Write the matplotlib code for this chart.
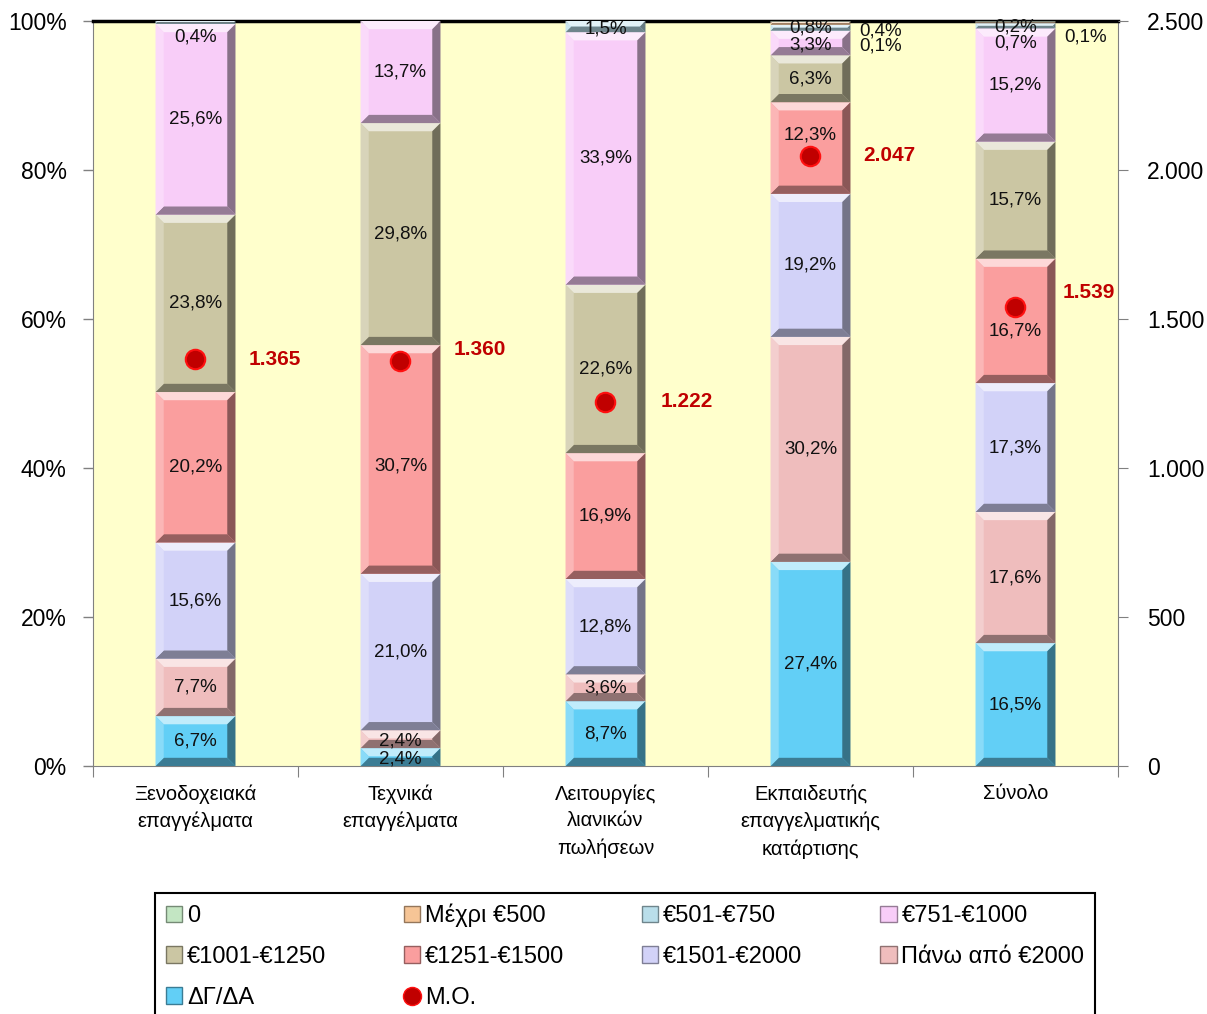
import numpy as np
import matplotlib
matplotlib.use("Agg")
import matplotlib.pyplot as plt
from matplotlib.patches import Patch, Polygon
from matplotlib.lines import Line2D
from matplotlib.colors import to_rgb

plt.rcParams['font.family'] = ['Liberation Sans', 'DejaVu Sans']

categories = ["Ξενοδοχειακά\nεπαγγέλματα", "Τεχνικά\nεπαγγέλματα",
              "Λειτουργίες\nλιανικών\nπωλήσεων",
              "Εκπαιδευτής\nεπαγγελματικής\nκατάρτισης", "Σύνολο"]

# stacked bottom -> top
series = ["ΔΓ/ΔΑ", "Πάνω από €2000", "€1501-€2000", "€1251-€1500",
          "€1001-€1250", "€751-€1000", "€501-€750", "Μέχρι €500", "0"]
dg = [6.7, 2.4, 8.7, 27.4, 16.5]
over2000 = [7.7, 2.4, 3.6, 30.2, 17.6]
r1501 = [15.6, 21.0, 12.8, 19.2, 17.3]
r1251 = [20.2, 30.7, 16.9, 12.3, 16.7]
r1001 = [23.8, 29.8, 22.6, 6.3, 15.7]
r751 = [25.6, 13.7, 33.9, 3.3, 15.2]
r501 = [0.4, 0.0, 1.5, 0.8, 0.7]
upto500 = [0.0, 0.0, 0.0, 0.4, 0.2]
zero = [0.0, 0.0, 0.0, 0.1, 0.1]
values = [dg, over2000, r1501, r1251, r1001, r751, r501, upto500, zero]

means = [1365, 1360, 1222, 2047, 1539]

colors = {
    "ΔΓ/ΔΑ": "#62CFF6",
    "Πάνω από €2000": "#EFBDBD",
    "€1501-€2000": "#D2D2F8",
    "€1251-€1500": "#FA9E9E",
    "€1001-€1250": "#CBC6A3",
    "€751-€1000": "#F8CDF8",
    "€501-€750": "#B9DEEA",
    "Μέχρι €500": "#F6C596",
    "0": "#C3E6C3",
}

# legend order, row by row in the original (matplotlib fills by column)
legend_order = ["0", "€1001-€1250", "ΔΓ/ΔΑ", "Μέχρι €500", "€1251-€1500", "Μ.Ο.",
                "€501-€750", "€1501-€2000", "€751-€1000", "Πάνω από €2000"]

# label placement tweaks: (cat, series) -> (dx, y, ha)
label_moves = {
    (0, "€501-€750"): (0, 97.9, "center"),
    (2, "€501-€750"): (0, 98.9, "center"),
    (1, "ΔΓ/ΔΑ"): (0, 0.9, "center"),
    (1, "Πάνω από €2000"): (0, 3.4, "center"),
    (1, "€1251-€1500"): (0, 40.3, "center"),
    (3, "€1251-€1500"): (0, 84.7, "center"),
    (3, "€751-€1000"): (0, 96.8, "center"),
    (3, "€501-€750"): (0, 99.0, "center"),
    (3, "Μέχρι €500"): (0.24, 98.7, "left"),
    (3, "0"): (0.24, 96.6, "left"),
    (4, "€1251-€1500"): (0, 58.4, "center"),
    (4, "Μέχρι €500"): (0, 99.2, "center"),
    (4, "€501-€750"): (0, 97.0, "center"),
    (4, "0"): (0.24, 97.9, "left"),
}
mean_offsets = [(38, 0), (38, 8), (40, 0), (38, 0), (34, 11)]


def mix(c, other, t):
    c = np.array(to_rgb(c))
    return tuple(c * (1 - t) + np.array(other) * t)


def bevel(ax, p, color):
    x0, y0 = p.get_x(), p.get_y()
    x1, y1 = x0 + p.get_width(), y0 + p.get_height()
    h = y1 - y0
    if h <= 0:
        return
    by = min(1.1, h / 2)
    bx = 0.04 * by / 1.1
    faces = [
        ([(x0, y1), (x1, y1), (x1 - bx, y1 - by), (x0 + bx, y1 - by)], mix(color, (1, 1, 1), 0.6)),
        ([(x0, y0), (x1, y0), (x1 - bx, y0 + by), (x0 + bx, y0 + by)], mix(color, (0, 0, 0), 0.4)),
        ([(x0, y0), (x0 + bx, y0 + by), (x0 + bx, y1 - by), (x0, y1)], mix(color, (1, 1, 1), 0.25)),
        ([(x1, y0), (x1 - bx, y0 + by), (x1 - bx, y1 - by), (x1, y1)], mix(color, (0, 0, 0), 0.45)),
    ]
    for pts, fc in faces:
        ax.add_patch(Polygon(pts, closed=True, facecolor=fc, edgecolor="none", zorder=3))


fig = plt.figure(figsize=(12.07, 10.14), dpi=100)
ax = fig.add_axes([93 / 1207, 1 - 766 / 1014, 1025 / 1207, 745 / 1014])
ax.set_facecolor("#FFFFCC")

x = np.arange(len(categories))
bottom = np.zeros(len(categories))
for name, vals in zip(series, values):
    vals = np.array(vals)
    bars = ax.bar(x, vals, 0.39, bottom=bottom, color=colors[name], zorder=2, linewidth=0)
    for i, p in enumerate(bars):
        bevel(ax, p, colors[name])
        if vals[i] <= 0:
            continue
        txt = f"{vals[i]:.1f}%".replace(".", ",")
        if (i, name) in label_moves:
            dx, yy, ha = label_moves[(i, name)]
            xx = x[i] + dx
        else:
            xx, yy, ha = x[i], bottom[i] + vals[i] / 2, "center"
        ax.text(xx, yy, txt, ha=ha, va="center", fontsize=13.5, color="#111111", zorder=6)
    bottom += vals

ax.set_xlim(-0.5, len(categories) - 0.5)
ax.set_ylim(0, 100)
ax.set_yticks(np.arange(0, 101, 20))
ax.set_yticklabels([f"{v}%" for v in range(0, 101, 20)], fontsize=16.5)
ax.tick_params(axis="y", length=7, width=1, color="#808080", pad=12)
ax.set_xticks(np.arange(-0.5, len(categories), 1))
ax.set_xticklabels([])
ax.tick_params(axis="x", which="major", length=8, color="#808080")
ax.set_xticks(x, minor=True)
ax.set_xticklabels(categories, minor=True, fontsize=14.5, linespacing=1.52)
ax.tick_params(axis="x", which="minor", length=0, pad=13)
for s in ["left", "bottom", "right"]:
    ax.spines[s].set_color("#808080")
ax.spines["top"].set_color("black")
ax.spines["top"].set_linewidth(2.5)

ax2 = ax.twinx()
ax2.set_ylim(0, 2500)
ax2.set_yticks(np.arange(0, 2501, 500))
ax2.set_yticklabels([f"{v:,}".replace(",", ".") for v in range(0, 2501, 500)], fontsize=16.5)
ax2.tick_params(axis="y", length=7, color="#808080", pad=14)
for s in ["left", "bottom", "right", "top"]:
    ax2.spines[s].set_visible(False)
ax2.plot(x, means, "o", ms=14, mfc="#C00000", mec="#FF1010", mew=1.5, zorder=7)
for i, m in enumerate(means):
    ax2.annotate(f"{m:,}".replace(",", "."), (x[i], m), xytext=mean_offsets[i],
                 textcoords="offset points", ha="left", va="center",
                 fontsize=15, fontweight="bold", color="#C00000")

hmap = {n: Patch(facecolor=colors[n], edgecolor=mix(colors[n], (0, 0, 0), 0.4), label=n)
        for n in series}
hmap["Μ.Ο."] = Line2D([], [], ls="none", marker="o", ms=13, mfc="#C00000",
                      mec="#FF1010", label="Μ.Ο.")
handles = [hmap[n] for n in legend_order]
leg = fig.legend(handles=handles, ncol=4, loc="upper left", mode="expand",
                 bbox_to_anchor=(155 / 1207, -0.2, 940 / 1207, 0.2 + 121 / 1014),
                 fontsize=17, frameon=True, fancybox=False, edgecolor="black",
                 framealpha=1, handlelength=0.7, handleheight=0.7, handletextpad=0.2,
                 labelspacing=0.8, borderpad=0.45, borderaxespad=0)
leg.get_frame().set_linewidth(1.5)

fig.savefig("out.png", dpi=100)
